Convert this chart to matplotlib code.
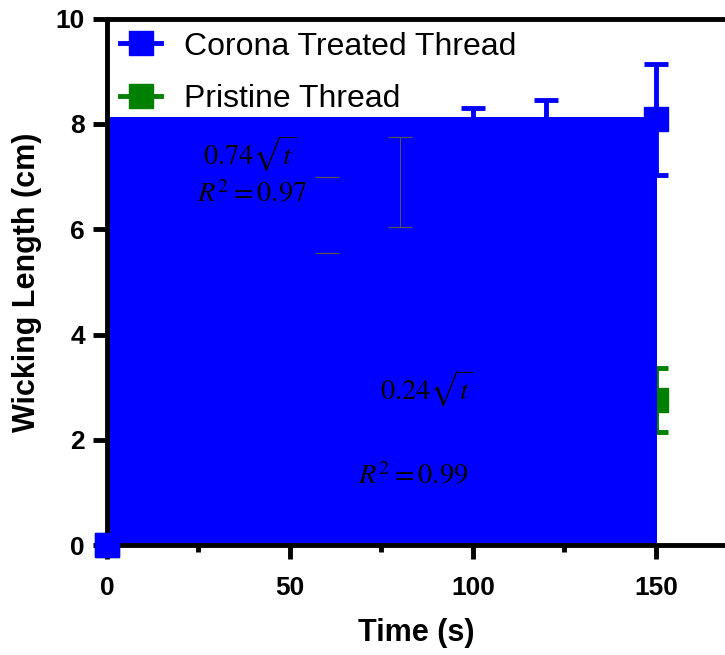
"""
Wicking length of corona treated vs pristine thread over time.

Output:
  - ./out.png
"""

import matplotlib

matplotlib.use("Agg")
import matplotlib.pyplot as plt
from matplotlib.lines import Line2D
from matplotlib.ticker import MultipleLocator

# Corona treated thread (mean +/- sd)
corona_time = [0, 100, 120, 150]
corona_mean = [0.0, 7.40, 7.70, 8.09]
corona_err = [0.0, 0.90, 0.76, 1.05]

# Pristine thread (mean +/- sd)
pristine_time = [0, 150]
pristine_mean = [0.0, 2.76]
pristine_err = [0.0, 0.61]

# Filled region under the corona fit
fill_time = [0, 150.4]
fill_top = [8.13, 8.13]

# Faint grey error bars left inside the filled area
faint_cap_time = [60]
faint_cap_mean = [6.27]
faint_cap_err = [0.73]
faint_bar_time = [80]
faint_bar_mean = [6.90]
faint_bar_err = [0.85]

# Fit annotations
fit_labels = [r"$0.74\sqrt{t}$", r"$R^2=0.97$", r"$0.24\sqrt{t}$", r"$R^2=0.99$"]
fit_x = [39.1, 39.6, 87.4, 83.6]
fit_y = [7.22, 6.52, 2.76, 1.16]

BLUE = "#0000FF"
GREEN = "#008000"

plt.rcParams["font.family"] = ["Liberation Sans", "DejaVu Sans"]
plt.rcParams["mathtext.fontset"] = "stix"


def main() -> int:
    fig = plt.figure(figsize=(7.25, 6.55), dpi=100)
    ax = fig.add_axes([0.1476, 0.1679, 0.8524, 0.8035])

    ax.errorbar(pristine_time, pristine_mean, yerr=pristine_err, fmt="s",
                color=GREEN, markersize=17, elinewidth=3.5, capsize=8.6,
                capthick=3.5, zorder=1, clip_on=False)

    ax.fill_between(fill_time, 0, fill_top, color=BLUE, lw=0, zorder=2)

    # only the caps of this one survive
    ax.errorbar(faint_cap_time, faint_cap_mean, yerr=faint_cap_err, fmt="none",
                ecolor="#555555", elinewidth=0, capsize=8.6, capthick=0.9,
                zorder=3)
    ax.errorbar(faint_bar_time, faint_bar_mean, yerr=faint_bar_err, fmt="none",
                ecolor="#555555", elinewidth=0.7, capsize=8.6, capthick=0.9,
                zorder=3)

    ax.errorbar(corona_time, corona_mean, yerr=corona_err, fmt="s",
                color=BLUE, markersize=17, elinewidth=3.5, capsize=8.6,
                capthick=3.5, zorder=4, clip_on=False)

    for lbl, x, y in zip(fit_labels, fit_x, fit_y):
        ax.text(x, y, lbl, fontsize=20.5, ha="center", va="baseline", zorder=5)

    ax.set_xlim(0, 168.9)
    ax.set_ylim(0, 10)
    ax.xaxis.set_major_locator(MultipleLocator(50))
    ax.xaxis.set_minor_locator(MultipleLocator(25))
    ax.yaxis.set_major_locator(MultipleLocator(2))

    for side in ("left", "bottom", "top"):
        ax.spines[side].set_linewidth(3.5)
    ax.spines["right"].set_visible(False)

    ax.tick_params(axis="both", which="major", direction="out", length=10,
                   width=3.5, labelsize=19)
    ax.tick_params(axis="x", which="major", pad=12)
    ax.tick_params(axis="y", which="major", pad=6)
    ax.tick_params(axis="x", which="minor", direction="out", length=5,
                   width=3.5)
    for lab in ax.get_xticklabels() + ax.get_yticklabels():
        lab.set_fontweight("bold")

    ax.set_xlabel("Time (s)", fontsize=22, fontweight="bold", labelpad=13)
    ax.set_ylabel("Wicking Length (cm)", fontsize=22, fontweight="bold",
                  labelpad=10)

    handles = [
        Line2D([], [], color=BLUE, marker="s", markersize=17, lw=3.5),
        Line2D([], [], color=GREEN, marker="s", markersize=17, lw=3.5),
    ]
    ax.legend(handles, ["Corona Treated Thread", "Pristine Thread"],
              loc="upper left", frameon=False, fontsize=23, handlelength=1.3,
              handletextpad=0.7, labelspacing=0.7, borderaxespad=0.2,
              borderpad=0.2)

    fig.savefig("out.png", dpi=100)
    plt.close(fig)
    return 0


if __name__ == "__main__":
    raise SystemExit(main())
